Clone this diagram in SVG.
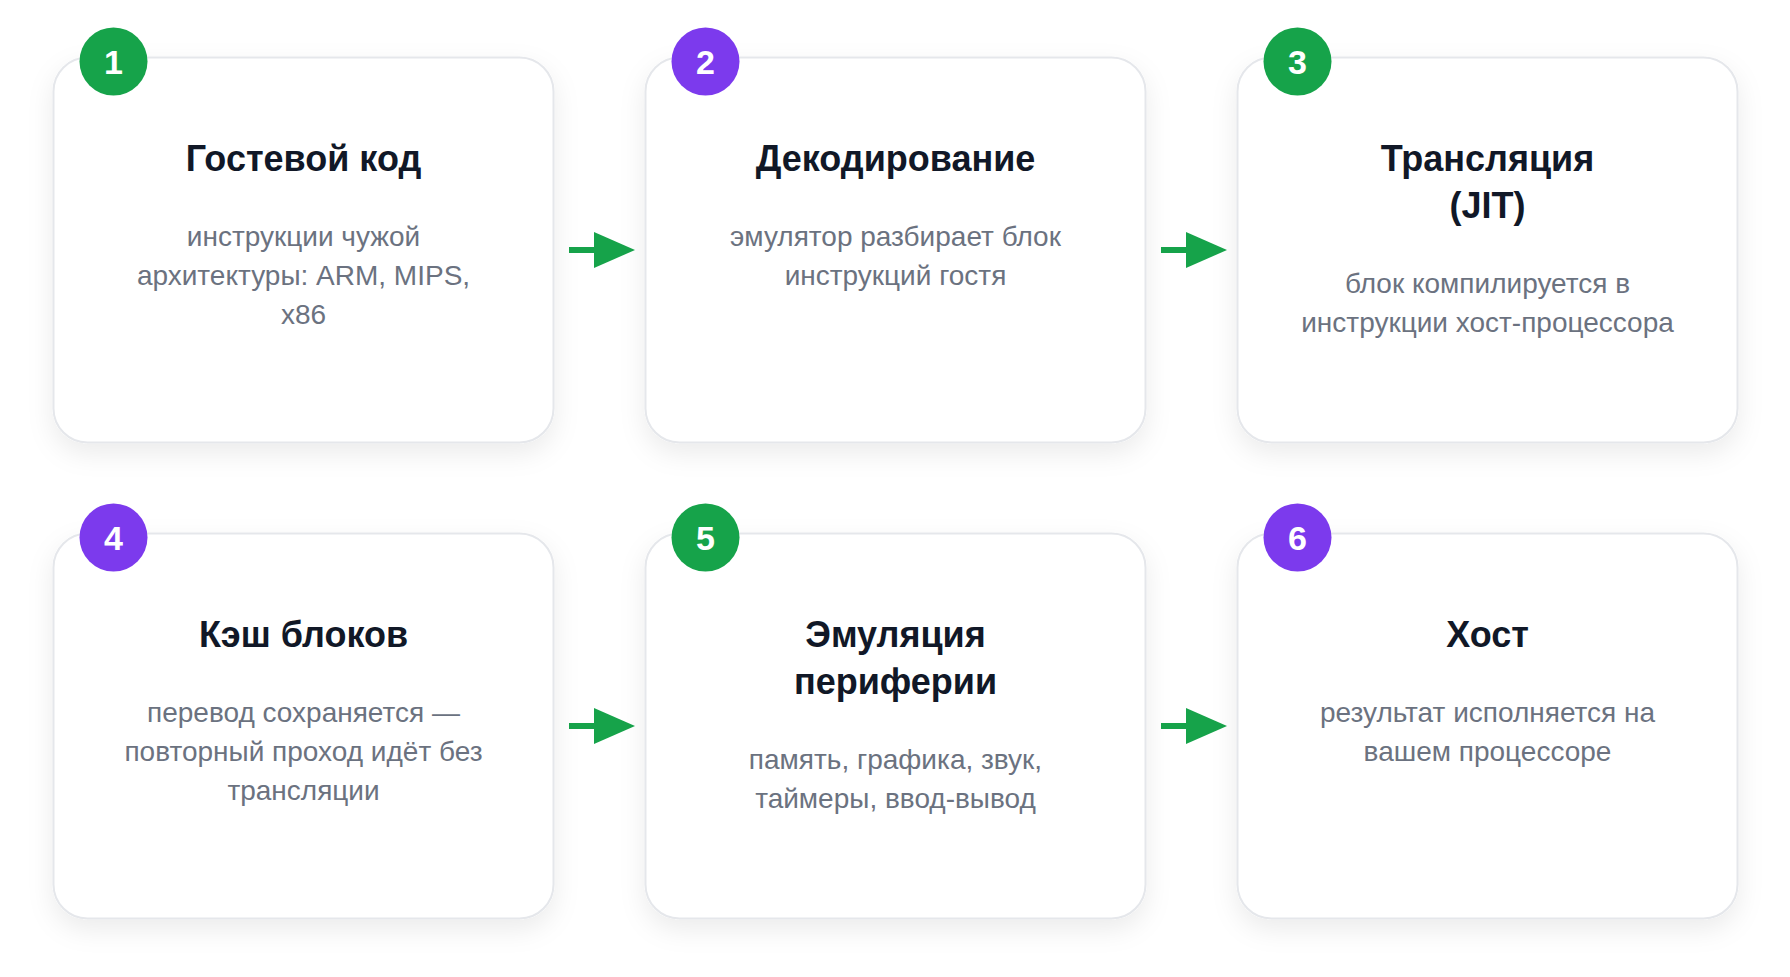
<svg xmlns="http://www.w3.org/2000/svg" width="1790" height="977" viewBox="0 0 1790 977">
<style>
.card{fill:#ffffff;stroke:#e5e7eb;stroke-width:2}
.title{font-family:"Liberation Sans",Arial,sans-serif;font-size:36px;font-weight:700;fill:#111827;text-anchor:middle}
.desc{font-family:"Liberation Sans",Arial,sans-serif;font-size:28px;fill:#6b7280;text-anchor:middle}
.num{font-family:"Liberation Sans",Arial,sans-serif;font-size:34px;font-weight:700;fill:#ffffff;text-anchor:middle}
.green{fill:#16a34a}
.purple{fill:#7c3aed}
.conn{stroke:#16a34a;stroke-width:6;fill:none}
</style>
<defs>
<filter id="sh" x="-20%" y="-20%" width="140%" height="150%">
<feDropShadow dx="0" dy="10" stdDeviation="13" flood-color="#000000" flood-opacity="0.08"/>
</filter>
<marker id="ah" viewBox="0 0 41 36" refX="0" refY="18" markerWidth="41" markerHeight="36" markerUnits="userSpaceOnUse" orient="auto">
<path d="M0,0 L41,18 L0,36 Z" fill="#16a34a"/>
</marker>
</defs>
<rect width="1790" height="977" fill="#ffffff"/>

<g id="connectors">
<line class="conn" x1="569" y1="250" x2="594" y2="250" marker-end="url(#ah)"/>
<line class="conn" x1="1161" y1="250" x2="1186" y2="250" marker-end="url(#ah)"/>
<line class="conn" x1="569" y1="726" x2="594" y2="726" marker-end="url(#ah)"/>
<line class="conn" x1="1161" y1="726" x2="1186" y2="726" marker-end="url(#ah)"/>
</g>

<g id="node1">
<rect class="card" x="53.5" y="57.5" width="500" height="385" rx="34" filter="url(#sh)"/>
<circle class="green" cx="113.5" cy="61.5" r="34"/>
<text class="num" x="113.5" y="73.5">1</text>
<text class="title" x="303.5" y="171">Гостевой код</text>
<text class="desc" x="303.5" y="246">инструкции чужой</text>
<text class="desc" x="303.5" y="285">архитектуры: ARM, MIPS,</text>
<text class="desc" x="303.5" y="324">x86</text>
</g>

<g id="node2">
<rect class="card" x="645.5" y="57.5" width="500" height="385" rx="34" filter="url(#sh)"/>
<circle class="purple" cx="705.5" cy="61.5" r="34"/>
<text class="num" x="705.5" y="73.5">2</text>
<text class="title" x="895.5" y="171">Декодирование</text>
<text class="desc" x="895.5" y="246">эмулятор разбирает блок</text>
<text class="desc" x="895.5" y="285">инструкций гостя</text>
</g>

<g id="node3">
<rect class="card" x="1237.5" y="57.5" width="500" height="385" rx="34" filter="url(#sh)"/>
<circle class="green" cx="1297.5" cy="61.5" r="34"/>
<text class="num" x="1297.5" y="73.5">3</text>
<text class="title" x="1487.5" y="171">Трансляция</text>
<text class="title" x="1487.5" y="218">(JIT)</text>
<text class="desc" x="1487.5" y="293">блок компилируется в</text>
<text class="desc" x="1487.5" y="332">инструкции хост-процессора</text>
</g>

<g id="node4">
<rect class="card" x="53.5" y="533.5" width="500" height="385" rx="34" filter="url(#sh)"/>
<circle class="purple" cx="113.5" cy="537.5" r="34"/>
<text class="num" x="113.5" y="549.5">4</text>
<text class="title" x="303.5" y="647">Кэш блоков</text>
<text class="desc" x="303.5" y="722">перевод сохраняется —</text>
<text class="desc" x="303.5" y="761">повторный проход идёт без</text>
<text class="desc" x="303.5" y="800">трансляции</text>
</g>

<g id="node5">
<rect class="card" x="645.5" y="533.5" width="500" height="385" rx="34" filter="url(#sh)"/>
<circle class="green" cx="705.5" cy="537.5" r="34"/>
<text class="num" x="705.5" y="549.5">5</text>
<text class="title" x="895.5" y="647">Эмуляция</text>
<text class="title" x="895.5" y="694">периферии</text>
<text class="desc" x="895.5" y="769">память, графика, звук,</text>
<text class="desc" x="895.5" y="808">таймеры, ввод-вывод</text>
</g>

<g id="node6">
<rect class="card" x="1237.5" y="533.5" width="500" height="385" rx="34" filter="url(#sh)"/>
<circle class="purple" cx="1297.5" cy="537.5" r="34"/>
<text class="num" x="1297.5" y="549.5">6</text>
<text class="title" x="1487.5" y="647">Хост</text>
<text class="desc" x="1487.5" y="722">результат исполняется на</text>
<text class="desc" x="1487.5" y="761">вашем процессоре</text>
</g>
</svg>
